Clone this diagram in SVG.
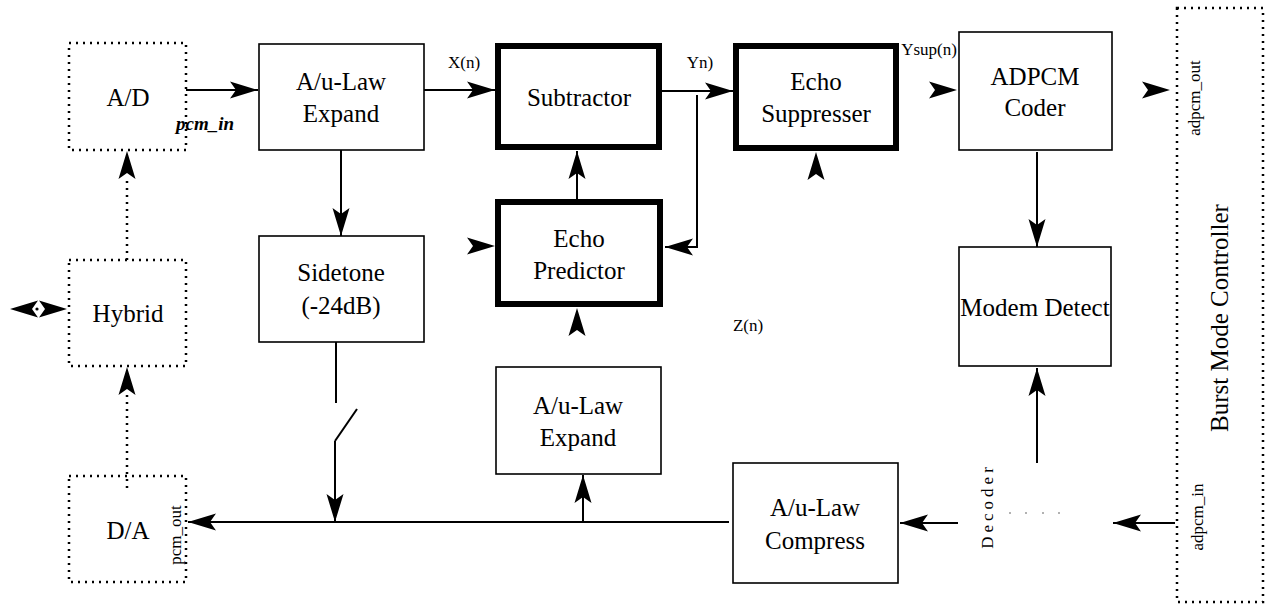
<svg xmlns="http://www.w3.org/2000/svg" xmlns:xlink="http://www.w3.org/1999/xlink" width="1265" height="605" viewBox="0 0 1265 605">
<style>
.box{fill:none;stroke:#000;stroke-width:1.6}
.thick{fill:none;stroke:#000;stroke-width:6}
.dot{fill:none;stroke:#000;stroke-width:2.5;stroke-dasharray:2 5}
.t{font-family:"Liberation Serif","Times New Roman",serif;font-size:25px;fill:#000;text-anchor:middle}
.s{font-family:"Liberation Serif","Times New Roman",serif;font-size:17px;fill:#000;text-anchor:middle}
.ln{fill:none;stroke:#000;stroke-width:2}
.arr{marker-end:url(#ah)}
</style>
<defs>
<path id="head" d="M0,0 L-28,-8.5 L-22,0 L-28,8.5 Z" fill="#000"/>
<marker id="ah" markerUnits="userSpaceOnUse" viewBox="-28 -9 28 18" markerWidth="28" markerHeight="18" refX="0" refY="0" orient="auto">
<path d="M0,0 L-28,-8.5 L-22,0 L-28,8.5 Z" fill="#000"/>
</marker>
</defs>
<rect width="1265" height="605" fill="#fff"/>

<g id="ad"><rect class="dot" x="69" y="43" width="117" height="107"/><text class="t" x="128" y="106">A/D</text>
<text x="205" y="130" font-family="Liberation Serif, serif" font-size="19" font-weight="bold" font-style="italic" text-anchor="middle" textLength="58" lengthAdjust="spacingAndGlyphs">pcm_in</text></g>
<g id="hybrid"><rect class="dot" x="69" y="260" width="117" height="106"/><text class="t" x="128" y="322">Hybrid</text></g>
<g id="da"><rect class="dot" x="69" y="476" width="117" height="106"/><text class="t" x="128" y="539">D/A</text>
<text class="s" transform="translate(181,535) rotate(-90)">pcm_out</text></g>

<g id="expand1"><rect class="box" x="259" y="44" width="165" height="106"/><text class="t" x="341" y="90">A/u-Law</text><text class="t" x="341" y="122">Expand</text></g>
<g id="subtractor"><rect class="thick" x="498" y="46" width="161" height="101"/><text class="t" x="579" y="106">Subtractor</text></g>
<g id="suppresser"><rect class="thick" x="736" y="46" width="160" height="102"/><text class="t" x="816" y="90">Echo</text><text class="t" x="816" y="122">Suppresser</text></g>
<g id="coder"><rect class="box" x="959" y="32" width="153" height="118"/><text class="t" x="1035" y="85">ADPCM</text><text class="t" x="1035" y="116">Coder</text></g>
<g id="burst"><rect class="dot" x="1177" y="8" width="86" height="594"/>
<text class="s" transform="translate(1200,98) rotate(-90)">adpcm_out</text>
<text class="t" transform="translate(1228,318) rotate(-90)">Burst Mode Controller</text>
<text class="s" transform="translate(1203,517) rotate(-90)">adpcm_in</text></g>
<g id="sidetone"><rect class="box" x="259" y="236" width="165" height="106"/><text class="t" x="341" y="281">Sidetone</text><text class="t" x="341" y="314">(-24dB)</text></g>
<g id="predictor"><rect class="thick" x="498" y="202" width="162" height="102"/><text class="t" x="579" y="247">Echo</text><text class="t" x="579" y="279">Predictor</text></g>
<g id="modem"><rect class="box" x="959" y="247" width="152" height="119"/><text class="t" x="1035" y="316">Modem Detect</text></g>
<g id="expand2"><rect class="box" x="496" y="367" width="165" height="107"/><text class="t" x="578" y="414">A/u-Law</text><text class="t" x="578" y="446">Expand</text></g>
<g id="compress"><rect class="box" x="733" y="463" width="165" height="120"/><text class="t" x="815" y="516">A/u-Law</text><text class="t" x="815" y="549">Compress</text></g>
<g id="decoder"><text class="s" transform="translate(993,506) rotate(-90)" letter-spacing="4">Decoder</text>
<g fill="#999"><circle cx="1010" cy="513" r="1"/><circle cx="1026" cy="513" r="1"/><circle cx="1043" cy="513" r="1"/><circle cx="1059" cy="513" r="1"/></g></g>

<g id="labels">
<text class="s" x="464" y="68">X(n)</text>
<text class="s" x="700" y="68">Yn)</text>
<text class="s" x="929" y="55">Ysup(n)</text>
<text class="s" x="748" y="331">Z(n)</text>
</g>

<g id="connectors">
<line class="ln arr" x1="186" y1="90" x2="258" y2="90"/>
<line class="ln arr" x1="424" y1="90" x2="495" y2="90"/>
<line class="ln arr" x1="662" y1="91" x2="733" y2="91"/>
<use xlink:href="#head" transform="translate(957,90)"/>
<use xlink:href="#head" transform="translate(1170,90)"/>
<use xlink:href="#head" transform="translate(816,152) rotate(-90)"/>
<line class="ln arr" x1="577" y1="199" x2="577" y2="151"/>
<polyline class="ln arr" points="697,95 697,247 665,247"/>
<use xlink:href="#head" transform="translate(495,246)"/>
<use xlink:href="#head" transform="translate(577,308) rotate(-90)"/>
<line class="ln arr" x1="341" y1="150" x2="341" y2="236"/>
<line class="ln" x1="336" y1="342" x2="336" y2="403"/>
<line class="ln" x1="357" y1="409" x2="335" y2="441"/>
<line class="ln arr" x1="335" y1="441" x2="335" y2="522"/>
<line class="ln arr" x1="729" y1="522" x2="188" y2="522"/>
<line class="ln arr" x1="583" y1="522" x2="583" y2="475"/>
<line class="ln arr" x1="958" y1="523" x2="900" y2="523"/>
<line class="ln arr" x1="1175" y1="523" x2="1113" y2="523"/>
<line class="ln arr" x1="1037" y1="152" x2="1037" y2="247"/>
<line class="ln arr" x1="1037" y1="463" x2="1037" y2="368"/>
<line class="dot" x1="127" y1="260" x2="127" y2="178"/>
<use xlink:href="#head" transform="translate(127,151) rotate(-90)"/>
<line class="dot" x1="127" y1="488" x2="127" y2="394"/>
<use xlink:href="#head" transform="translate(127,367) rotate(-90)"/>
<use xlink:href="#head" transform="translate(10,309) rotate(180)"/>
<use xlink:href="#head" transform="translate(67,309)"/>
<circle cx="37" cy="309" r="1.6" fill="#000"/>
</g>
</svg>
